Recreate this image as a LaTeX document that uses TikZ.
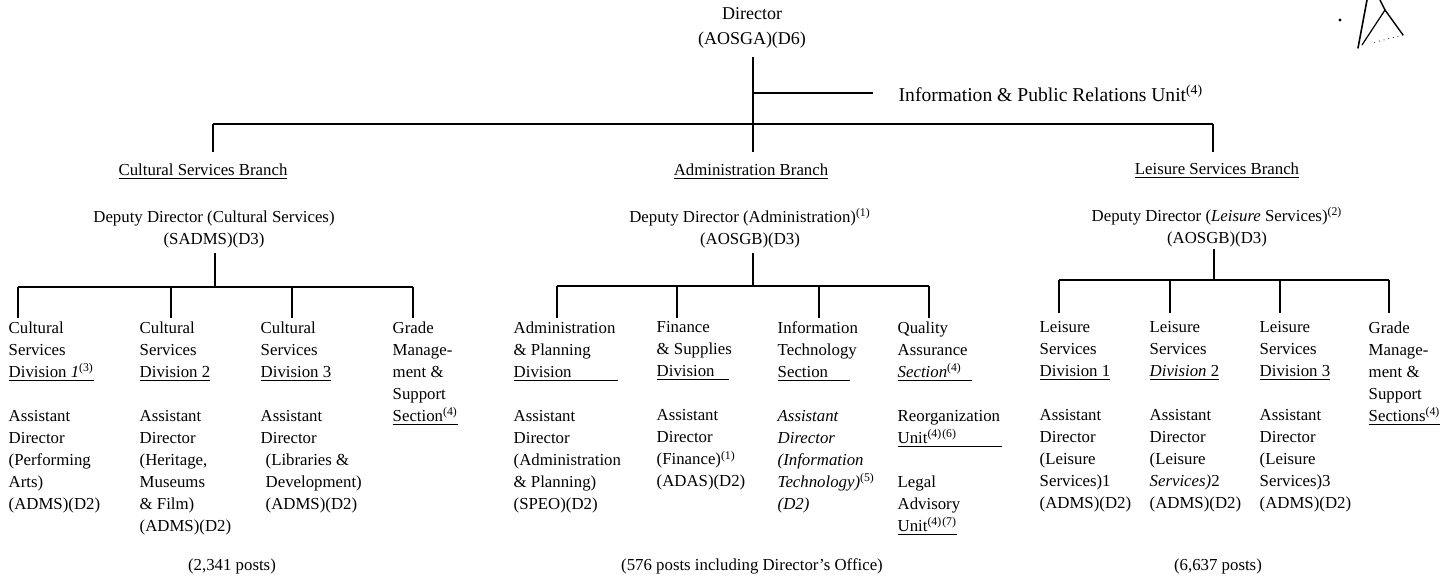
\documentclass[tikz,border=0pt]{standalone}
\usepackage{fontspec}
\setmainfont{Liberation Serif}
\newcommand{\fnote}[1]{\textsuperscript{(#1)}}
\begin{document}
\begin{tikzpicture}[x=0.5pt,y=-0.5pt,line width=0.7pt,
  every node/.style={inner sep=0pt,font=\fontsize{8.4}{11}\selectfont},
  head node/.style={align=center},
  unit node/.style={align=left,anchor=north west}]
\useasboundingbox (0,0) rectangle (1447,581);

% director and the unit beside him
\node [head node,font=\fontsize{9}{12.5}\selectfont] (dir) at (752,28) {Director\\(AOSGA)(D6)};
\node [anchor=west,font=\fontsize{9.8}{12}\selectfont] (info) at (898,93) {Information \& Public Relations Unit\fnote{4}};
\coordinate (dirfoot) at (753,57);
\coordinate (infojoin) at (753,93);
\coordinate (infoend) at (873,93);
\coordinate (barL) at (213,124);
\coordinate (barM) at (753,124);
\coordinate (barR) at (1213,124);
\coordinate (admtop) at (753,152);
\draw (dirfoot) -- (admtop);
\draw (infojoin) -- (infoend);
\draw (barL) -- (barR);
\draw (barL) -- (barL |- 0,152);
\draw (barR) -- (barR |- 0,152);

% branches
\node (cultbr) at (203,172) {\underline{Cultural Services Branch}};
\node (admbr) at (751,172) {\underline{Administration Branch}};
\node (leisbr) at (1217,171) {\underline{Leisure Services Branch}};

\node [head node] (cultdd) at (214,229) {Deputy Director (Cultural Services)\\(SADMS)(D3)};
\node [head node] (admdd) at (750,228) {Deputy Director (Administration)\fnote{1}\\(AOSGB)(D3)};
\node [head node] (leisdd) at (1217,227) {Deputy Director (\textit{Leisure} Services)\fnote{2}\\(AOSGB)(D3)};

% cultural services
\node [unit node] (c1) at (8,321) {Cultural\\Services\\\underline{Division \textit{1}\fnote{3}}\\[11pt]Assistant\\Director\\(Performing\\Arts)\\(ADMS)(D2)};
\node [unit node] (c2) at (139,321) {Cultural\\Services\\\underline{Division 2}\\[11pt]Assistant\\Director\\(Heritage,\\Museums\\\& Film)\\(ADMS)(D2)};
\node [unit node] (c3) at (260,321) {Cultural\\Services\\\underline{Division 3}\\[11pt]Assistant\\Director\\\hspace*{2.5pt}(Libraries \&\\\hspace*{2.5pt}Development)\\\hspace*{2.5pt}(ADMS)(D2)};
\node [unit node] (c4) at (392,321) {Grade\\Manage-\\ment \&\\Support\\\underline{Section\fnote{4}}};

% administration
\node [unit node] (a1) at (513,321) {Administration\\\& Planning\\\underline{\makebox[52pt][l]{Division}}\\[11pt]Assistant\\Director\\(Administration\\\& Planning)\\(SPEO)(D2)};
\node [unit node] (a2) at (656,321) {Finance\\\& Supplies\\\underline{\makebox[36pt][l]{Division}}\\[11pt]Assistant\\Director\\(Finance)\fnote{1}\\(ADAS)(D2)};
\node [unit node] (a3) at (777,321) {Information\\Technology\\\underline{\makebox[36pt][l]{Section}}\\[11pt]\textit{Assistant}\\\textit{Director}\\\textit{(Information}\\\textit{Technology)}\fnote{5}\\\textit{(D2)}};
\node [unit node] (a4) at (897,321) {Quality\\Assurance\\\underline{\makebox[37pt][l]{\textit{Section}\fnote{4}}}\\[11pt]Reorganization\\\underline{\makebox[52pt][l]{Unit\fnote{4}\fnote{6}}}\\[11pt]Legal\\Advisory\\\underline{Unit\fnote{4}\fnote{7}}};

% leisure services
\node [unit node] (l1) at (1039,321) {Leisure\\Services\\\underline{Division 1}\\[11pt]Assistant\\Director\\(Leisure\\Services)1\\(ADMS)(D2)};
\node [unit node] (l2) at (1149,321) {Leisure\\Services\\\underline{\textit{Division} 2}\\[11pt]Assistant\\Director\\(Leisure\\\textit{Services)}2\\(ADMS)(D2)};
\node [unit node] (l3) at (1259,321) {Leisure\\Services\\\underline{Division 3}\\[11pt]Assistant\\Director\\(Leisure\\Services)3\\(ADMS)(D2)};
\node [unit node] (l4) at (1368,321) {Grade\\Manage-\\ment \&\\Support\\\underline{Sections\fnote{4}}};

% bars under the deputies
\coordinate (cdd) at (215,253);
\coordinate (cbarL) at (18,287);
\coordinate (cbarR) at (413,287);
\draw (cdd) -- (cdd |- cbarL);
\draw (cbarL) -- (cbarR);
\foreach \x/\n in {18/c1,171/c2,292/c3,413/c4}
  \draw (\x,287) -- (\x,318);

\coordinate (add) at (753,253);
\coordinate (abarL) at (557,286);
\coordinate (abarR) at (929,286);
\draw (add) -- (add |- abarL);
\draw (abarL) -- (abarR);
\foreach \x/\n in {557/a1,677/a2,819/a3,929/a4}
  \draw (\x,286) -- (\x,318);

\coordinate (ldd) at (1214,249);
\coordinate (lbarL) at (1059,280);
\coordinate (lbarR) at (1389,280);
\draw (ldd) -- (ldd |- lbarL);
\draw (lbarL) -- (lbarR);
\foreach \x/\n in {1059/l1,1170/l2,1280/l3,1389/l4}
  \draw (\x,280) -- (\x,313);

% posts
\node (cultposts) at (232,566) {(2,341 posts)};
\node (admposts) at (752,566) {(576 posts including Director’s Office)};
\node (leisposts) at (1218,566) {(6,637 posts)};

% pen mark, top right
\draw [line width=0.8pt,line cap=round,line join=round] (1367,0) -- (1358,48);
\draw [line width=0.7pt,line cap=round,line join=round] (1380,0) -- (1385,10) -- (1403,35);
\draw [line width=0.6pt,line cap=round] (1385,10) -- (1362,45);
\draw [line width=0.4pt,dotted] (1403,35) -- (1372,43);
\fill (1340,20) circle (0.8pt);
\end{tikzpicture}
\end{document}
